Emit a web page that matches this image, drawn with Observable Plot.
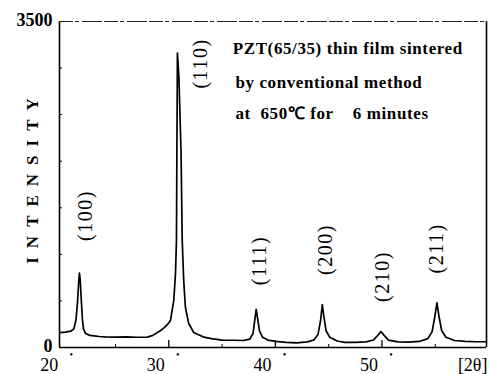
<!DOCTYPE html>
<html>
<head>
<meta charset="utf-8">
<script src="https://cdn.jsdelivr.net/npm/d3@7"></script>
<script src="https://cdn.jsdelivr.net/npm/@observablehq/plot@0.6"></script>
<style>
  html, body { margin: 0; padding: 0; background: #fff; }
  #chart { width: 490px; height: 374px; }
  #chart svg text { font-family: 'Liberation Serif', 'Times New Roman', serif; }
</style>
</head>
<body>
<div id="chart"></div>
<script>
// XRD pattern (2θ in degrees, intensity in counts)
const twoTheta = [
  19.8, 20.3, 20.8, 21.1, 21.3, 21.45, 21.55, 21.62, 21.7, 21.8, 21.9, 22.0, 22.2, 22.6,
  23.0, 23.5, 24.0, 25.0, 26.0, 27.0, 28.0, 28.5, 29.2, 29.55, 29.9, 30.16, 30.47, 30.63,
  30.72, 30.76, 30.81, 30.95, 31.15, 31.26, 31.4, 31.56, 31.87, 32.34, 33.3, 34.0, 35.0,
  36.0, 37.0, 37.6, 37.9, 38.05, 38.2, 38.35, 38.5, 38.8, 39.3, 40.0, 41.0, 42.0, 43.0,
  43.6, 44.0, 44.25, 44.4, 44.55, 44.75, 45.1, 45.8, 46.5, 47.5, 48.5, 49.2, 49.6, 49.9,
  50.2, 50.6, 51.5, 52.5, 53.5, 54.3, 54.7, 54.95, 55.15, 55.35, 55.6, 56.0, 56.8, 57.8,
  58.8, 59.8
];
const intensity = [
  160, 165, 175, 200, 300, 500, 700, 800, 720, 500, 300, 200, 150, 130,
  125, 118, 115, 112, 115, 110, 112, 130, 180, 210, 250, 290, 505, 795,
  1150, 2100, 3160, 2900, 2100, 1150, 720, 430, 258, 161, 111, 95, 80,
  78, 75, 90, 150, 280, 410, 300, 180, 110, 80, 65, 55, 50, 60,
  80, 140, 300, 460, 330, 180, 110, 70, 55, 55, 60, 80, 130, 170,
  130, 80, 60, 58, 65, 95, 170, 330, 480, 330, 180, 110, 75, 65,
  62, 62
];

// Peak (Miller index) labels
const peakLabels = ["(100)", "(110)", "(111)", "(200)", "(210)", "(211)"];
const labelTheta = [22.2, 33.0, 38.5, 44.68, 50.02, 55.08];
const labelIntensity = [1417, 3049, 934, 1052, 762, 1063];

// Annotation lines
const noteLines = ["PZT(65/35) thin film sintered", "by conventional method", "at  650\u2103 for    6 minutes"];
const noteTheta = [36.0, 36.25, 36.25];
const noteIntensity = [3210, 2845, 2512];

// Axes
const xDomain = [19.75, 59.8];
const yDomain = [0, 3500];
const xTickValues = [20, 30, 40, 50];
const xMajorTicks = [30, 40, 50];
const xMinorTicks = [25, 35, 45, 55];
const yTickValues = [500, 1000, 1500, 2000, 2500, 3000];
const yLabelValues = [0, 3500];
const xUnitLabel = "[2\u03B8]";
const yTitle = "INTENSITY";

const serif = "'Liberation Serif', 'Times New Roman', serif";
const pattern = twoTheta.map((t, i) => ({t, v: intensity[i]}));
const peaks = peakLabels.map((s, i) => ({s, t: labelTheta[i], v: labelIntensity[i]}));
const notes = noteLines.map((s, i) => ({s, t: noteTheta[i], v: noteIntensity[i]}));

const chart = Plot.plot({
  width: 490,
  height: 374,
  marginLeft: 59,
  marginRight: 4,
  marginTop: 21,
  marginBottom: 27,
  style: {fontFamily: serif, background: "#fff", color: "#000"},
  x: {domain: xDomain, axis: null},
  y: {domain: yDomain, axis: null},
  marks: [
    // frame: solid left, right, bottom; broken thin top
    Plot.ruleX(xDomain, {x: d => d, stroke: "#000", strokeWidth: 1.6}),
    Plot.ruleY([yDomain[0]], {y: d => d, stroke: "#000", strokeWidth: 1.6}),
    Plot.ruleY([yDomain[1]], {y: d => d, stroke: "#222", strokeWidth: 1.2, strokeDasharray: "14,2,4,3,20,2"}),
    Plot.ruleX(xMinorTicks, {x: d => d, insetTop: 323, stroke: "#000", strokeWidth: 1}),
    Plot.ruleX(xMajorTicks, {x: d => d, insetTop: 319, stroke: "#000", strokeWidth: 1.3}),
    Plot.ruleY(yTickValues, {y: d => d, insetRight: 424, stroke: "#000", strokeWidth: 1}),
    Plot.line(pattern, {x: "t", y: "v", stroke: "#000", strokeWidth: 1.7, curve: "linear"}),
    Plot.text(peaks, {x: "t", y: "v", text: "s", rotate: -90, fontSize: 20, fontFamily: serif, fill: "#000"}),
    Plot.text(notes, {x: "t", y: "v", text: "s", textAnchor: "start", fontSize: 17, fontWeight: "bold", fontFamily: serif, fill: "#000"}),
    Plot.text(yLabelValues, {y: d => d, frameAnchor: "left", textAnchor: "end", lineAnchor: "middle", dx: -7, dy: -1, text: d => String(d), fontSize: 18, fontWeight: "bold", fontFamily: serif, fill: "#000"}),
    Plot.text(xTickValues, {x: d => d, frameAnchor: "bottom", lineAnchor: "middle", dy: 18, dx: -13, text: d => String(d), fontSize: 18, fontFamily: serif, fill: "#000"}),
    Plot.text(xTickValues, {x: d => d, frameAnchor: "bottom", lineAnchor: "middle", dy: 7, dx: 9, text: () => "\u2022", fontSize: 10, fontFamily: serif, fill: "#000"}),
    Plot.text([xUnitLabel], {frameAnchor: "bottom-right", lineAnchor: "middle", dy: 18, dx: 1, textAnchor: "end", text: d => d, fontSize: 18, fontFamily: serif, fill: "#000"}),
    Plot.text([yTitle], {frameAnchor: "left", dx: -27, dy: -8, textAnchor: "middle", rotate: -90, text: d => d, fontSize: 17, fontWeight: "bold", fontFamily: serif, fill: "#000"})
  ]
});
document.getElementById("chart").appendChild(chart);
d3.select(chart).selectAll("text").filter(function() { return this.textContent === yTitle; })
  .style("letter-spacing", "9px");
d3.select(chart).selectAll("text").filter(function() { return /^\(\d+\)$/.test(this.textContent); })
  .style("letter-spacing", "1.5px");
d3.select(chart).selectAll("text").filter(function() { return noteLines.includes(this.textContent); })
  .style("letter-spacing", "0.6px");
</script>
</body>
</html>
